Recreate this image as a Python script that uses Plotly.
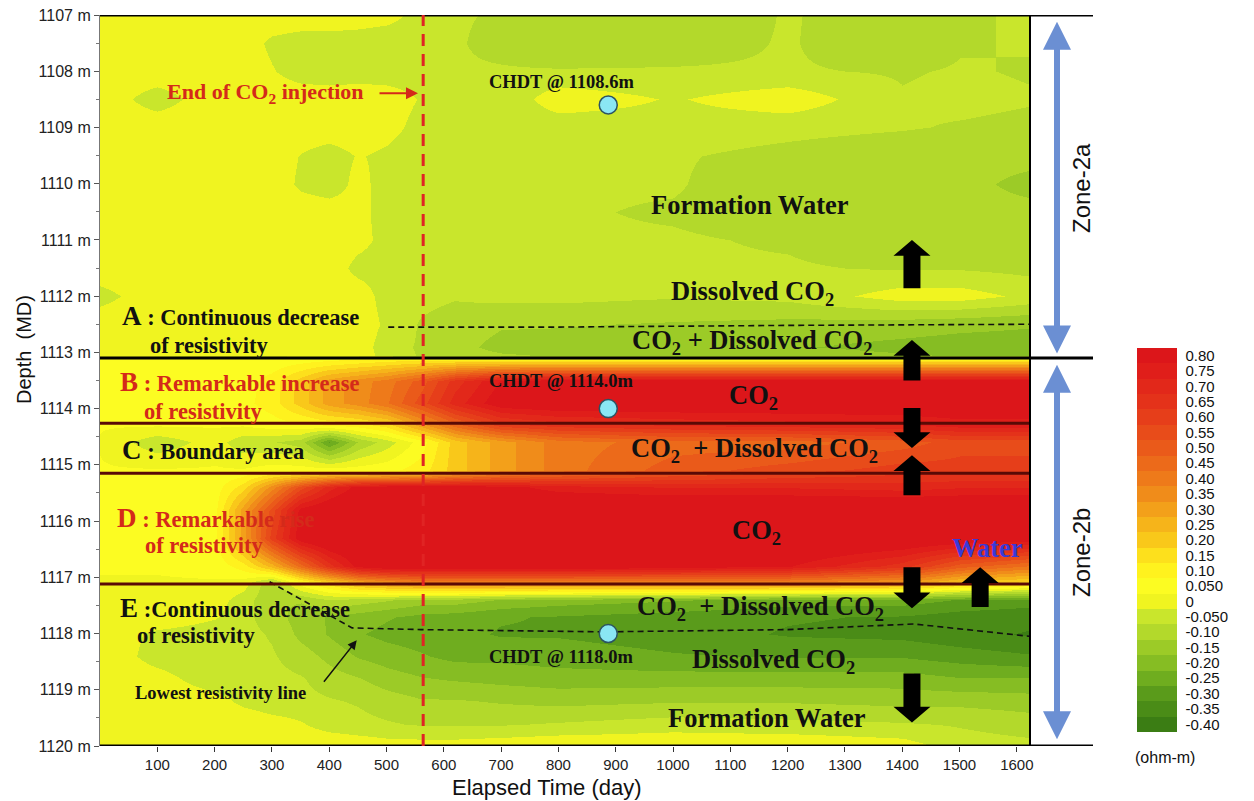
import plotly.graph_objects as go

# ---------------- data ----------------
time_days = [0, 100, 200, 250, 300, 350, 400, 450, 500, 560, 620, 700, 800, 1000, 1200, 1400, 1500, 1625]
depth_m = [1107.0, 1107.5, 1108.0, 1108.5, 1109.0, 1109.5, 1110.0, 1110.5, 1111.0, 1111.5,
           1112.0, 1112.5, 1112.9, 1113.05, 1113.15, 1113.5, 1113.9, 1114.3, 1114.6, 1115.1,
           1115.4, 1115.8, 1116.3, 1116.8, 1117.1, 1117.4, 1117.7, 1118.0, 1118.4, 1118.8,
           1119.2, 1119.6, 1120.0]
# resistivity change (ohm-m), one row per depth, one column per time
resistivity_change = [
    [0.02, 0.02, 0.02, 0.02, 0.02, 0.02, 0.02, 0.01, 0.00, -0.05, -0.07, -0.08, -0.12, -0.12, -0.07, -0.11, -0.08, -0.07],
    [0.02, 0.02, 0.02, 0.01, -0.04, -0.06, -0.06, -0.06, -0.07, -0.07, -0.07, -0.09, -0.12, -0.10, -0.07, -0.12, -0.08, -0.07],
    [0.02, 0.02, 0.02, 0.02, -0.02, -0.06, -0.07, -0.06, -0.06, -0.06, -0.07, -0.07, -0.07, -0.07, -0.07, -0.08, -0.07, -0.08],
    [0.02, -0.06, 0.02, 0.02, 0.02, 0.02, 0.02, 0.02, 0.01, -0.03, -0.06, -0.07, 0.01, -0.03, 0.01, -0.07, -0.06, -0.07],
    [0.02, 0.02, 0.02, 0.02, 0.02, 0.02, 0.02, 0.02, 0.00, -0.05, -0.07, -0.07, -0.06, -0.05, -0.06, -0.07, -0.08, -0.09],
    [0.02, 0.02, 0.02, 0.02, 0.02, -0.03, -0.06, -0.02, -0.04, -0.07, -0.07, -0.07, -0.07, -0.07, -0.09, -0.11, -0.12, -0.12],
    [0.02, 0.02, 0.02, 0.02, 0.02, -0.04, -0.07, 0.00, -0.06, -0.07, -0.07, -0.07, -0.07, -0.07, -0.11, -0.09, -0.12, -0.13],
    [0.02, 0.02, 0.02, 0.02, 0.02, 0.02, 0.02, 0.00, -0.06, -0.07, -0.07, -0.07, -0.07, -0.08, -0.10, -0.12, -0.12, -0.12],
    [0.02, 0.02, 0.02, 0.02, 0.02, 0.02, 0.02, 0.00, -0.05, -0.07, -0.07, -0.07, -0.07, -0.07, -0.08, -0.11, -0.10, -0.12],
    [0.02, 0.02, 0.02, 0.02, 0.02, 0.02, 0.02, -0.05, -0.06, -0.06, -0.07, -0.07, -0.07, -0.07, -0.07, -0.08, -0.08, -0.09],
    [-0.05, 0.02, 0.02, 0.02, 0.02, 0.02, 0.02, 0.02, -0.06, -0.06, -0.07, -0.06, -0.06, -0.07, -0.06, 0.00, 0.00, -0.04],
    [0.02, 0.02, 0.02, 0.02, 0.02, 0.02, 0.02, 0.02, -0.04, -0.08, -0.10, -0.12, -0.12, -0.13, -0.14, -0.15, -0.16, -0.17],
    [0.02, 0.02, 0.02, 0.02, 0.02, 0.02, 0.02, 0.01, -0.06, -0.08, -0.11, -0.14, -0.15, -0.16, -0.17, -0.19, -0.20, -0.20],
    [0.02, 0.02, 0.02, 0.02, 0.02, 0.02, 0.02, 0.01, -0.05, -0.08, -0.10, -0.12, -0.13, -0.14, -0.15, -0.17, -0.18, -0.18],
    [0.03, 0.03, 0.03, 0.03, 0.04, 0.06, 0.08, 0.10, 0.12, 0.14, 0.15, 0.15, 0.15, 0.15, 0.15, 0.15, 0.15, 0.15],
    [0.03, 0.03, 0.03, 0.05, 0.10, 0.20, 0.30, 0.35, 0.40, 0.50, 0.65, 0.78, 0.82, 0.82, 0.82, 0.82, 0.82, 0.82],
    [0.03, 0.03, 0.04, 0.06, 0.10, 0.20, 0.30, 0.35, 0.42, 0.55, 0.70, 0.82, 0.84, 0.84, 0.84, 0.84, 0.84, 0.84],
    [0.03, 0.03, 0.03, 0.03, 0.05, 0.06, 0.08, 0.10, 0.15, 0.30, 0.45, 0.60, 0.65, 0.68, 0.70, 0.72, 0.75, 0.75],
    [0.02, -0.06, 0.00, -0.06, -0.07, -0.10, -0.28, -0.12, -0.05, 0.05, 0.20, 0.30, 0.40, 0.45, 0.45, 0.50, 0.55, 0.55],
    [0.03, 0.03, 0.03, 0.03, 0.05, 0.05, 0.05, 0.05, 0.06, 0.10, 0.20, 0.30, 0.40, 0.50, 0.55, 0.60, 0.60, 0.60],
    [0.03, 0.03, 0.05, 0.15, 0.35, 0.55, 0.70, 0.80, 0.82, 0.82, 0.82, 0.80, 0.75, 0.72, 0.72, 0.70, 0.72, 0.72],
    [0.03, 0.03, 0.06, 0.30, 0.55, 0.80, 0.85, 0.88, 0.88, 0.88, 0.88, 0.88, 0.88, 0.88, 0.88, 0.88, 0.88, 0.88],
    [0.03, 0.03, 0.06, 0.30, 0.60, 0.82, 0.88, 0.88, 0.88, 0.88, 0.88, 0.88, 0.88, 0.88, 0.88, 0.86, 0.84, 0.82],
    [0.03, 0.03, 0.04, 0.10, 0.25, 0.45, 0.65, 0.80, 0.85, 0.85, 0.85, 0.85, 0.85, 0.82, 0.78, 0.65, 0.50, 0.42],
    [0.02, 0.02, 0.02, 0.00, -0.12, 0.05, 0.15, 0.25, 0.30, 0.35, 0.35, 0.35, 0.35, 0.35, 0.35, 0.30, 0.20, 0.15],
    [0.02, 0.02, 0.00, -0.05, -0.12, -0.12, -0.08, -0.10, -0.12, -0.15, -0.15, -0.18, -0.20, -0.22, -0.25, -0.25, -0.28, -0.30],
    [0.02, 0.02, -0.02, -0.06, -0.10, -0.15, -0.18, -0.20, -0.22, -0.24, -0.25, -0.27, -0.28, -0.30, -0.32, -0.33, -0.35, -0.36],
    [0.02, -0.04, -0.06, -0.06, -0.08, -0.14, -0.18, -0.22, -0.24, -0.25, -0.26, -0.28, -0.28, -0.30, -0.33, -0.34, -0.36, -0.38],
    [0.02, -0.05, -0.07, -0.06, -0.07, -0.10, -0.14, -0.18, -0.20, -0.22, -0.24, -0.24, -0.25, -0.27, -0.28, -0.28, -0.30, -0.32],
    [0.02, 0.00, -0.06, -0.06, -0.06, -0.07, -0.10, -0.12, -0.15, -0.17, -0.18, -0.19, -0.20, -0.20, -0.20, -0.20, -0.22, -0.22],
    [0.02, 0.02, 0.00, -0.04, -0.06, -0.06, -0.07, -0.08, -0.10, -0.12, -0.12, -0.13, -0.14, -0.13, -0.13, -0.14, -0.14, -0.15],
    [0.02, 0.02, 0.02, 0.02, 0.00, -0.02, -0.05, -0.06, -0.07, -0.08, -0.08, -0.08, -0.07, -0.05, -0.06, -0.07, -0.08, -0.10],
    [0.02, 0.02, 0.02, 0.02, 0.02, 0.02, 0.02, 0.01, 0.00, 0.00, 0.00, 0.01, 0.02, 0.02, 0.02, 0.00, -0.05, -0.06],
]

levels = [-0.40, -0.35, -0.30, -0.25, -0.20, -0.15, -0.10, -0.05, 0.0, 0.05, 0.10, 0.15, 0.20,
          0.25, 0.30, 0.35, 0.40, 0.45, 0.50, 0.55, 0.60, 0.65, 0.70, 0.75, 0.80]
level_labels = ["-0.40", "-0.35", "-0.30", "-0.25", "-0.20", "-0.15", "-0.10", "-0.050", "0", "0.050",
                "0.10", "0.15", "0.20", "0.25", "0.30", "0.35", "0.40", "0.45", "0.50", "0.55",
                "0.60", "0.65", "0.70", "0.75", "0.80"]
level_colors = ["#3b7d14", "#4a8c17", "#5a9b1b", "#6fad1f", "#86bd23", "#9ccb27", "#b3d92b", "#c9e62c",
                "#f0f420", "#fcfc22", "#fff21e", "#fde01c", "#f9c81a", "#f6b41a", "#f3a01a", "#f08c1a",
                "#ee7a1a", "#ec6a1a", "#ea5a1a", "#e84c1a", "#e63e1a", "#e4321a", "#e2281a", "#e01e1a",
                "#dc161a"]

x_ticks = [100, 200, 300, 400, 500, 600, 700, 800, 900, 1000, 1100, 1200, 1300, 1400, 1500, 1600]
y_ticks = list(range(1107, 1121))
y_tick_labels = [f"{d} m" for d in y_ticks]

end_injection_day = 564
chdt_day = 887
chdt_depths = [1108.6, 1114.0, 1118.0]
zone_boundaries = [1107.0, 1113.1, 1120.0]
layer_boundaries = [1114.26, 1115.15, 1117.12]

front_a_days = [503, 800, 1200, 1623]
front_a_depth = [1112.55, 1112.55, 1112.52, 1112.5]
lowest_line_days = [296, 440, 560, 880, 1200, 1420, 1623]
lowest_line_depth = [1117.08, 1117.9, 1117.93, 1117.97, 1117.93, 1117.83, 1118.05]

# block arrows: (day, tail depth, tip depth)
arrow_days = [1417, 1417, 1417, 1417, 1417, 1536, 1417]
arrow_tail = [1111.86, 1113.50, 1113.99, 1115.54, 1116.82, 1117.53, 1118.71]
arrow_tip = [1111.00, 1112.78, 1114.70, 1114.83, 1117.55, 1116.82, 1119.58]

# ---------------- figure ----------------
SERIF = "Liberation Serif, Times New Roman, serif"
SANS = "Liberation Sans, Arial, sans-serif"

zmin, zmax = -0.425, 0.825
n = len(level_colors)
colorscale = []
for i, c in enumerate(level_colors):
    colorscale.append([i / n, c])
    colorscale.append([(i + 1) / n, c])

fig = go.Figure()
fig.add_trace(go.Heatmap(
    x=time_days, y=depth_m, z=resistivity_change, zsmooth="best",
    colorscale=colorscale, zmin=zmin, zmax=zmax, hoverinfo="skip",
    colorbar=dict(
        thickness=40, thicknessmode="pixels", len=384, lenmode="pixels",
        x=(1137 - 100) / 930, xanchor="left", xpad=0,
        y=(746 - 540) / 731, yanchor="middle", ypad=0,
        outlinewidth=0, tickvals=levels, ticktext=level_labels,
        ticks="outside", ticklen=6, tickcolor="rgba(0,0,0,0)",
        tickfont=dict(family=SANS, size=15, color="#111"),
    ),
))

# lines through data
fig.add_trace(go.Scatter(x=front_a_days, y=front_a_depth, mode="lines",
                         line=dict(color="#111", width=1.6, dash="6px,4px"), hoverinfo="skip", showlegend=False))
fig.add_trace(go.Scatter(x=lowest_line_days, y=lowest_line_depth, mode="lines",
                         line=dict(color="#111", width=1.6, dash="6px,4px"), hoverinfo="skip", showlegend=False))

shapes = []
for d in zone_boundaries:
    shapes.append(dict(type="line", xref="paper", yref="y", x0=0, x1=(1093 - 100) / 930, y0=d, y1=d,
                       line=dict(color="black", width=3)))
for d in layer_boundaries:
    shapes.append(dict(type="line", xref="paper", yref="y", x0=0, x1=1, y0=d, y1=d,
                       line=dict(color="#5a0a06", width=3)))
shapes.append(dict(type="line", xref="paper", yref="paper", x0=1, x1=1, y0=0, y1=1,
                   line=dict(color="black", width=2)))
shapes.append(dict(type="line", xref="x", yref="paper", x0=end_injection_day, x1=end_injection_day, y0=0, y1=1,
                   line=dict(color="#e02424", width=3, dash="12px,8px")))

# black block arrows (pixel widths, data depths)
for t, tail, tip in zip(arrow_days, arrow_tail, arrow_tip):
    sgn = 1 if tip > tail else -1
    hl = 0.28 * sgn
    neck = tip - hl
    path = (f"M -8.5,{tail} L 8.5,{tail} L 8.5,{neck} L 18.5,{neck} L 0,{tip} "
            f"L -18.5,{neck} L -8.5,{neck} Z")
    shapes.append(dict(type="path", xref="x", yref="y", xsizemode="pixel", xanchor=t,
                       path=path, fillcolor="black", line=dict(width=0)))

# blue zone arrows
zone_x = (1057 - 100) / 930
for top, bot in [(1107.12, 1113.02), (1113.22, 1119.88)]:
    hl = 0.5
    path = (f"M -3,{top + hl} L -14,{top + hl} L 0,{top} L 14,{top + hl} L 3,{top + hl} "
            f"L 3,{bot - hl} L 14,{bot - hl} L 0,{bot} L -14,{bot - hl} L -3,{bot - hl} Z")
    shapes.append(dict(type="path", xref="paper", yref="y", xsizemode="pixel", xanchor=zone_x,
                       path=path, fillcolor="#6b8fd3", line=dict(width=0)))

fig.add_trace(go.Scatter(x=[chdt_day] * len(chdt_depths), y=chdt_depths, mode="markers",
                         marker=dict(size=18, color="#8ae6f4", line=dict(color="#2b5463", width=1.5)),
                         hoverinfo="skip", showlegend=False))

ann = []

def txt(text, x, y, size=22, color="#111", xanchor="center", font=SERIF, **kw):
    ann.append(dict(text=text, x=x, y=y, xref="x", yref="y", showarrow=False, xanchor=xanchor,
                    yanchor="middle", font=dict(family=font, size=size, color=color), **kw))

RED = "#d42a1a"
BIG = 26.5
txt("<b>End of CO<sub>2</sub> injection</b>", 288, 1108.39, size=22, color=RED)
for d_lab, d_y in [("1108.6", 1108.19), ("1114.0", 1113.51), ("1118.0", 1118.41)]:
    txt(f"<b>CHDT @ {d_lab}m</b>", 805, d_y, size=18.5)
txt("<b>Formation Water</b>", 1134, 1110.38, size=BIG)
txt("<b>Dissolved CO<sub>2</sub></b>", 1138, 1111.95, size=BIG)
txt("<b>CO<sub>2</sub> + Dissolved CO<sub>2</sub></b>", 1138, 1112.82, size=BIG)
txt("<b>CO<sub>2</sub></b>", 1140, 1113.8, size=BIG)
txt("<b>CO<sub>2</sub>  + Dissolved CO<sub>2</sub></b>", 1143, 1114.74, size=BIG)
txt("<b>CO<sub>2</sub></b>", 1146, 1116.2, size=BIG)
txt("<b>Water</b>", 1548, 1116.47, size=BIG, color="#3a3ad8")
txt("<b>CO<sub>2</sub>  + Dissolved CO<sub>2</sub></b>", 1152, 1117.55, size=BIG)
txt("<b>Dissolved CO<sub>2</sub></b>", 1176, 1118.48, size=BIG)
txt("<b>Formation Water</b>", 1164, 1119.51, size=BIG)

def big(letter):
    return f'<span style="font-size:27px">{letter}</span>'

LS = 22.5
txt(f"<b>{big('A')} : Continuous decrease</b>", 35, 1112.36, size=LS, xanchor="left")
txt("<b>of resistivity</b>", 84, 1112.87, size=LS, xanchor="left")
txt(f"<b>{big('B')} : Remarkable increase</b>", 31, 1113.53, size=LS, color=RED, xanchor="left")
txt("<b>of resistivity</b>", 73, 1114.06, size=LS, color=RED, xanchor="left")
txt(f"<b>{big('C')} : Boundary area</b>", 35, 1114.74, size=LS, xanchor="left")
txt(f"<b>{big('D')} : Remarkable rise</b>", 26, 1115.95, size=LS, color=RED, xanchor="left")
txt("<b>of resistivity</b>", 75, 1116.43, size=LS, color=RED, xanchor="left")
txt(f"<b>{big('E')} :Continuous decrease</b>", 31, 1117.55, size=LS, xanchor="left")
txt("<b>of resistivity</b>", 61, 1118.03, size=LS, xanchor="left")
txt("<b>Lowest resistivity line</b>", 58, 1119.05, size=18.5, xanchor="left")

# arrows
ann.append(dict(x=555, y=1108.39, xref="x", yref="y", ax=-40, ay=0, text="", showarrow=True,
                arrowhead=2, arrowsize=1.2, arrowwidth=2, arrowcolor=RED))
ann.append(dict(x=448, y=1118.12, xref="x", yref="y", ax=-34, ay=43, text="", showarrow=True,
                arrowhead=2, arrowsize=1.2, arrowwidth=1.5, arrowcolor="#111"))

# axis titles, zone labels, unit
def ptxt(text, px, py, size, angle=0):
    ann.append(dict(text=text, x=(px - 100) / 930, y=(746 - py) / 731, xref="paper", yref="paper",
                    xanchor="center", yanchor="middle", showarrow=False, textangle=angle,
                    font=dict(family=SANS, size=size, color="#111")))

ptxt("Depth  (MD)", 24, 350, 20, -90)
ptxt("Elapsed Time (day)", 547, 787, 22)
ptxt("Zone-2a", 1081, 188, 24, -90)
ptxt("Zone-2b", 1081, 553, 24, -90)
ptxt("(ohm-m)", 1165, 757, 16)

fig.update_layout(
    width=1254, height=801, margin=dict(l=100, r=224, t=15, b=55, autoexpand=False),
    paper_bgcolor="white", plot_bgcolor="white", showlegend=False,
    shapes=shapes, annotations=ann,
    xaxis=dict(range=[0, 1623], tickvals=x_ticks, ticks="outside", ticklen=5, tickcolor="#333",
               showgrid=False, zeroline=False, showline=False,
               tickfont=dict(family=SANS, size=15, color="#222")),
    yaxis=dict(range=[1120, 1107], tickvals=y_ticks, ticktext=y_tick_labels, ticks="outside", ticklen=5,
               tickcolor="#555", showgrid=False, zeroline=False, showline=True, linecolor="#777", linewidth=1,
               minor=dict(dtick=0.5, ticks="outside", ticklen=3, tickcolor="#777"),
               tickfont=dict(family=SANS, size=16, color="#222")),
)

fig.write_html("out.html", config={"displayModeBar": False},
               post_script="document.body.style.margin='0';")
